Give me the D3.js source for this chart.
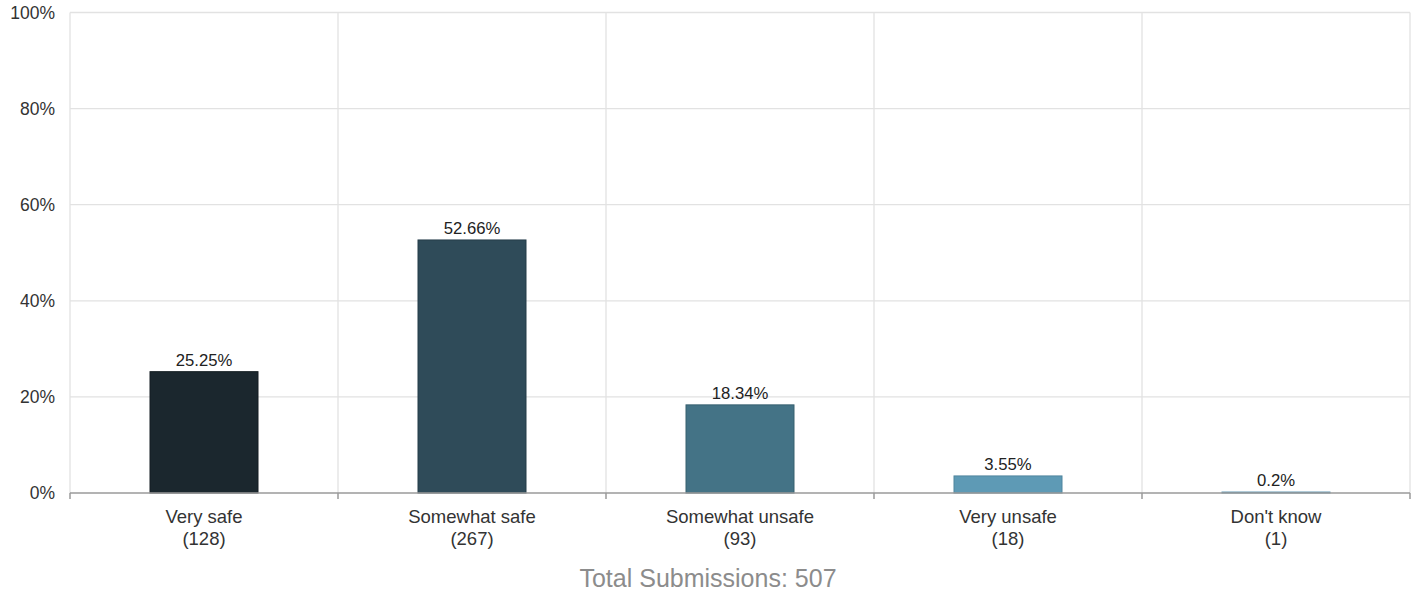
<!DOCTYPE html>
<html><head><meta charset="utf-8">
<script src="https://cdn.jsdelivr.net/npm/d3@7"></script>
<style>body{margin:0;background:#fff;} text{font-family:"Liberation Sans",Arial,sans-serif;}</style>
</head><body><svg id="c" width="1420" height="594"></svg>
<script>
const categories = ["Very safe","Somewhat safe","Somewhat unsafe","Very unsafe","Don't know"];
const counts = [128, 267, 93, 18, 1];
const percents = [25.25, 52.66, 18.34, 3.55, 0.2];
const percentLabels = ["25.25%","52.66%","18.34%","3.55%","0.2%"];
const yTicks = [0, 20, 40, 60, 80, 100];
const colors = ["#1b272e","#2f4b59","#447386","#5e9ab5","#6ea8c6"];
const strokes = ["#141d22","#253d49","#37606f","#4f859e","#5b93ae"];
const total = 507;

const svg = d3.select("#c");
const m = {l:70, r:10, t:12.5, b:101};
const W = 1420, H = 594;
const x = d3.scaleBand().domain(categories).range([m.l, W-m.r]).paddingInner(0).paddingOuter(0);
const y = d3.scaleLinear().domain([0,100]).range([H-m.b, m.t]);

// grid
const g = svg.append("g");
g.selectAll("line.h").data(yTicks.filter(d=>d>0)).join("line")
  .attr("x1", m.l).attr("x2", W-m.r).attr("y1", d=>y(d)).attr("y2", d=>y(d))
  .attr("stroke","#e2e2e2").attr("stroke-width",1.3);
const bounds = categories.map(c=>x(c)).concat([x(categories[categories.length-1])+x.bandwidth()]);
g.selectAll("line.v").data(bounds).join("line")
  .attr("x1", d=>d).attr("x2", d=>d).attr("y1", m.t).attr("y2", y(0))
  .attr("stroke","#e2e2e2").attr("stroke-width",1.3);

// y labels
svg.append("g").selectAll("text").data(yTicks).join("text")
  .attr("x", 55).attr("y", d=>y(d)).attr("dy","0.35em")
  .attr("text-anchor","end").attr("font-size",17.5).attr("fill","#333")
  .text(d=>d+"%");

// bars
const bw = 108;
svg.append("g").selectAll("rect").data(categories).join("rect")
  .attr("x", (c)=>x(c)+x.bandwidth()/2-bw/2)
  .attr("width", bw)
  .attr("y", (c,i)=>y(percents[i]))
  .attr("height", (c,i)=>y(0)-y(percents[i]))
  .attr("fill", (c,i)=>colors[i])
  .attr("stroke", (c,i)=>strokes[i]).attr("stroke-width",1);

// value labels
svg.append("g").selectAll("text").data(categories).join("text")
  .attr("x", c=>x(c)+x.bandwidth()/2)
  .attr("y", (c,i)=>y(percents[i])-6)
  .attr("text-anchor","middle").attr("font-size",16.7).attr("fill","#222")
  .text((c,i)=>percentLabels[i]);

// x axis
const xa = svg.append("g");
xa.append("line").attr("x1", m.l).attr("x2", W-m.r).attr("y1", y(0)).attr("y2", y(0))
  .attr("stroke","#9a9a9a").attr("stroke-width",1.5);
xa.selectAll("line.t").data(bounds).join("line")
  .attr("x1", d=>d).attr("x2", d=>d).attr("y1", y(0)).attr("y2", y(0)+6)
  .attr("stroke","#9a9a9a").attr("stroke-width",1.5);
const lab = xa.selectAll("text").data(categories).join("text")
  .attr("text-anchor","middle").attr("font-size",18.5).attr("fill","#333");
lab.append("tspan").attr("x", c=>x(c)+x.bandwidth()/2).attr("y", 523).text(c=>c);
lab.append("tspan").attr("x", c=>x(c)+x.bandwidth()/2).attr("y", 545).text((c,i)=>"("+counts[i]+")");

svg.append("text").attr("x", 708).attr("y", 587).attr("text-anchor","middle")
  .attr("font-size",25).attr("fill","#8c8c8c").text("Total Submissions: "+total);
</script></body></html>
